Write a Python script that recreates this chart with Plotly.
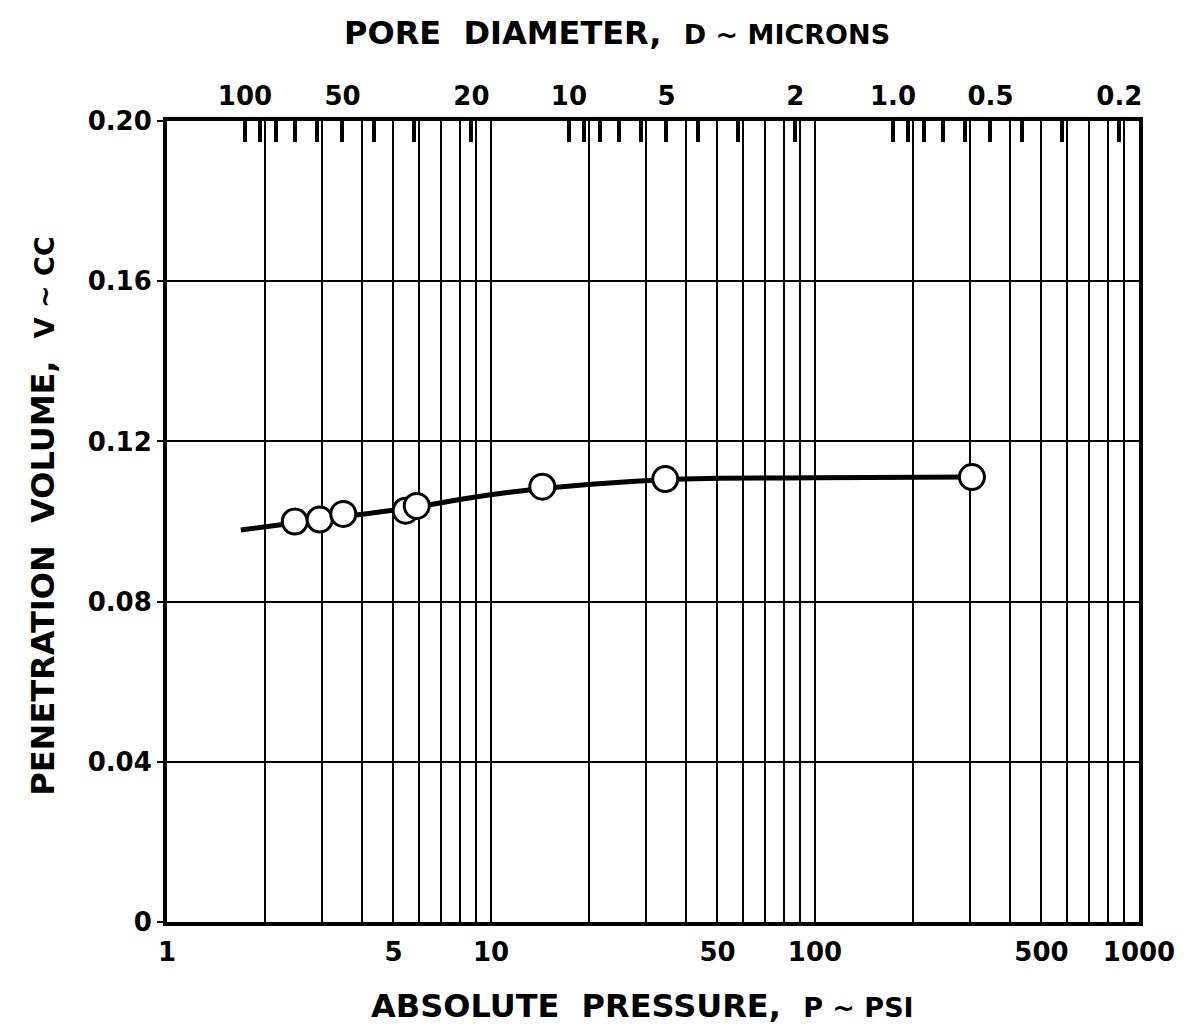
import plotly.graph_objects as go

# ---- data ----
pressure_psi = [2.48, 2.96, 3.5, 5.45, 5.9, 14.4, 34.5, 305]
volume_cc = [0.1000, 0.1005, 0.1019, 0.1027, 0.1039, 0.1087, 0.1106, 0.1111]

curve_p = [1.69, 3.0, 5.7, 11.4, 34, 100, 305]
curve_v = [0.0979, 0.1005, 0.1035, 0.1073, 0.1104, 0.1109, 0.1111]

bottom_tick_vals = [1, 5, 10, 50, 100, 500, 1000]
bottom_tick_text = ["1", "5", "10", "50", "100", "500", "1000"]
grid_p = [2, 3, 4, 6, 7, 8, 9, 20, 30, 40, 60, 70, 80, 90, 200, 300, 400, 600, 700, 800, 900]

y_tick_vals = [0, 0.04, 0.08, 0.12, 0.16, 0.20]
y_tick_text = ["0", "0.04", "0.08", "0.12", "0.16", "0.20"]

# pore diameter (microns) scale on top: D = K / P
K_D_P = 174.0
diam_ticks = [100, 90, 80, 70, 60, 50, 40, 30, 20,
              10, 9, 8, 7, 6, 5, 4, 3, 2,
              1.0, 0.9, 0.8, 0.7, 0.6, 0.5, 0.4, 0.3, 0.2]
diam_labels = {100: "100", 50: "50", 20: "20", 10: "10", 5: "5", 2: "2",
               1.0: "1.0", 0.5: "0.5", 0.2: "0.2"}

FONT = "DejaVu Sans"
TICKFONT = dict(family=FONT, size=26, color="black", weight="bold")

fig = go.Figure()

fig.add_trace(go.Scatter(
    x=curve_p, y=curve_v, mode="lines",
    line=dict(color="black", width=5, shape="spline", smoothing=1.2),
    hoverinfo="skip", showlegend=False))

fig.add_trace(go.Scatter(
    x=pressure_psi, y=volume_cc, mode="markers",
    marker=dict(symbol="circle", size=25, color="white",
                line=dict(color="black", width=3)),
    showlegend=False))

# invisible trace for top axis
fig.add_trace(go.Scatter(
    x=[K_D_P / d for d in diam_ticks], y=[0.1] * len(diam_ticks),
    xaxis="x2", mode="markers", marker=dict(opacity=0),
    hoverinfo="skip", showlegend=False))

top_vals = [K_D_P / d for d in diam_ticks]
top_text = [diam_labels.get(d, "") for d in diam_ticks]

small = '<span style="font-size:27px">'

fig.update_layout(
    width=1187, height=1030,
    margin=dict(l=167, r=48, t=121, b=108),
    paper_bgcolor="white", plot_bgcolor="white",
    font=dict(family=FONT, color="black", size=26),
    xaxis=dict(
        type="log", range=[0, 3],
        tickmode="array", tickvals=bottom_tick_vals, ticktext=bottom_tick_text,
        ticks="", showgrid=True, gridcolor="black", gridwidth=1.5,
        minor=dict(tickmode="array", tickvals=grid_p, showgrid=True,
                   gridcolor="black", gridwidth=1.5, ticks=""),
        showline=True, linecolor="black", linewidth=4,
        tickfont=TICKFONT, ticklabelstandoff=4,
        zeroline=False,
    ),
    xaxis2=dict(
        type="log", range=[0, 3], overlaying="x", side="top",
        tickmode="array", tickvals=top_vals, ticktext=top_text,
        ticks="inside", ticklen=21, tickwidth=4, tickcolor="black",
        showgrid=False, showline=True, linecolor="black", linewidth=4,
        tickfont=TICKFONT, ticklabelstandoff=2,
        zeroline=False,
    ),
    yaxis=dict(
        range=[0, 0.2],
        tickmode="array", tickvals=y_tick_vals, ticktext=y_tick_text,
        ticks="outside", ticklen=6, tickwidth=2, tickcolor="black",
        showgrid=True, gridcolor="black", gridwidth=1.5,
        showline=True, linecolor="black", linewidth=4, mirror=True,
        tickfont=TICKFONT, zeroline=False,
    ),
    annotations=[
        dict(text='ABSOLUTE  PRESSURE,  ' + small + 'P ~ PSI</span>',
             xref="paper", yref="paper", x=0.489, y=0, yanchor="middle",
             yshift=-84, showarrow=False,
             font=dict(size=32, weight="bold")),
        dict(text='PORE  DIAMETER,  ' + small + 'D ~ MICRONS</span>',
             xref="paper", yref="paper", x=0.463, y=1, yanchor="middle",
             yshift=88, showarrow=False,
             font=dict(size=32, weight="bold")),
        dict(text='PENETRATION  VOLUME,  ' + small + 'V ~ CC</span>',
             xref="paper", yref="paper", x=0, y=0.506, xanchor="center",
             xshift=-124, textangle=-90, showarrow=False,
             font=dict(size=32, weight="bold")),
    ],
)

fig.write_html("out.html")
